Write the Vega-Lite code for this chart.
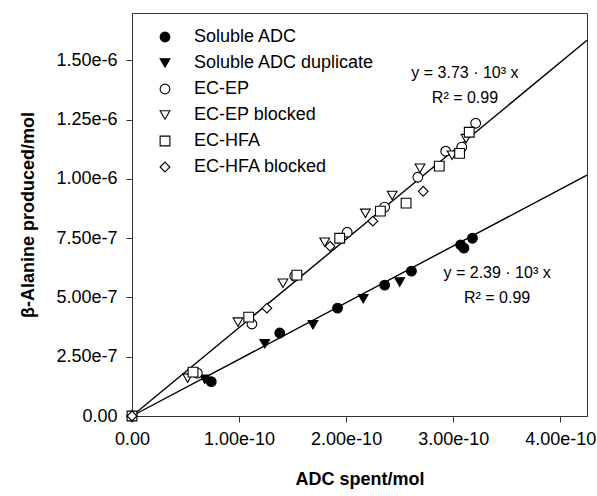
{
  "$schema": "https://vega.github.io/schema/vega-lite/v6.json",
  "width": 455,
  "height": 403,
  "autosize": "none",
  "padding": {"left": 132, "top": 13, "right": 10, "bottom": 80},
  "background": "white",
  "config": {
    "font": "Liberation Sans",
    "view": {"stroke": "#333", "strokeWidth": 1},
    "axis": {"grid": false, "domainColor": "#333", "tickColor": "#333", "tickSize": 6, "labelFontSize": 18, "labelColor": "#000", "titleFontSize": 18, "titleFontWeight": "bold", "titleColor": "#000"},
    "legend": {"orient": "none", "legendX": 24, "legendY": 15, "labelFontSize": 18, "labelColor": "#000", "labelLimit": 400, "labelOffset": 20, "rowPadding": 8, "symbolSize": 95, "symbolStrokeWidth": 1.1, "padding": 0}
  },
  "datasets": {
    "pts": [
      {"series": "EC-EP", "x": 0, "y": 0},
      {"series": "EC-HFA", "x": 0, "y": 0},
      {"series": "EC-HFA blocked", "x": 0, "y": 0},
      {"series": "Soluble ADC", "x": 7.4e-11, "y": 1.45e-7},
      {"series": "Soluble ADC", "x": 1.38e-10, "y": 3.50e-7},
      {"series": "Soluble ADC", "x": 1.92e-10, "y": 4.55e-7},
      {"series": "Soluble ADC", "x": 2.36e-10, "y": 5.52e-7},
      {"series": "Soluble ADC", "x": 2.61e-10, "y": 6.11e-7},
      {"series": "Soluble ADC", "x": 3.07e-10, "y": 7.22e-7},
      {"series": "Soluble ADC", "x": 3.10e-10, "y": 7.08e-7},
      {"series": "Soluble ADC", "x": 3.18e-10, "y": 7.50e-7},
      {"series": "Soluble ADC duplicate", "x": 6.8e-11, "y": 1.55e-7},
      {"series": "Soluble ADC duplicate", "x": 1.24e-10, "y": 3.05e-7},
      {"series": "Soluble ADC duplicate", "x": 1.69e-10, "y": 3.85e-7},
      {"series": "Soluble ADC duplicate", "x": 2.16e-10, "y": 4.95e-7},
      {"series": "Soluble ADC duplicate", "x": 2.50e-10, "y": 5.65e-7},
      {"series": "EC-EP", "x": 6.1e-11, "y": 1.81e-7},
      {"series": "EC-EP", "x": 1.12e-10, "y": 3.88e-7},
      {"series": "EC-EP", "x": 1.52e-10, "y": 5.90e-7},
      {"series": "EC-EP", "x": 2.01e-10, "y": 7.75e-7},
      {"series": "EC-EP", "x": 2.36e-10, "y": 8.81e-7},
      {"series": "EC-EP", "x": 2.67e-10, "y": 1.007e-6},
      {"series": "EC-EP", "x": 2.93e-10, "y": 1.117e-6},
      {"series": "EC-EP", "x": 3.08e-10, "y": 1.134e-6},
      {"series": "EC-EP", "x": 3.21e-10, "y": 1.235e-6},
      {"series": "EC-EP blocked", "x": 5.2e-11, "y": 1.60e-7},
      {"series": "EC-EP blocked", "x": 9.9e-11, "y": 3.96e-7},
      {"series": "EC-EP blocked", "x": 1.41e-10, "y": 5.60e-7},
      {"series": "EC-EP blocked", "x": 1.80e-10, "y": 7.33e-7},
      {"series": "EC-EP blocked", "x": 2.18e-10, "y": 8.55e-7},
      {"series": "EC-EP blocked", "x": 2.43e-10, "y": 9.30e-7},
      {"series": "EC-EP blocked", "x": 2.69e-10, "y": 1.045e-6},
      {"series": "EC-EP blocked", "x": 2.99e-10, "y": 1.100e-6},
      {"series": "EC-EP blocked", "x": 3.12e-10, "y": 1.170e-6},
      {"series": "EC-HFA", "x": 5.7e-11, "y": 1.85e-7},
      {"series": "EC-HFA", "x": 1.09e-10, "y": 4.17e-7},
      {"series": "EC-HFA", "x": 1.54e-10, "y": 5.94e-7},
      {"series": "EC-HFA", "x": 1.94e-10, "y": 7.50e-7},
      {"series": "EC-HFA", "x": 2.32e-10, "y": 8.64e-7},
      {"series": "EC-HFA", "x": 2.56e-10, "y": 8.98e-7},
      {"series": "EC-HFA", "x": 2.87e-10, "y": 1.054e-6},
      {"series": "EC-HFA", "x": 3.06e-10, "y": 1.108e-6},
      {"series": "EC-HFA", "x": 3.15e-10, "y": 1.197e-6},
      {"series": "EC-HFA blocked", "x": 1.26e-10, "y": 4.55e-7},
      {"series": "EC-HFA blocked", "x": 1.85e-10, "y": 7.16e-7},
      {"series": "EC-HFA blocked", "x": 2.25e-10, "y": 8.22e-7},
      {"series": "EC-HFA blocked", "x": 2.72e-10, "y": 9.48e-7}
    ],
    "fits": [
      {"line": "a", "x": 0, "y": 0},
      {"line": "a", "x": 4.25e-10, "y": 1.585e-6},
      {"line": "b", "x": 0, "y": 0},
      {"line": "b", "x": 4.25e-10, "y": 1.016e-6}
    ],
    "notes": [
      {"x": 3.11e-10, "y": 1.445e-6, "label": "y = 3.73 · 10³ x"},
      {"x": 3.11e-10, "y": 1.340e-6, "label": "R² = 0.99"},
      {"x": 3.41e-10, "y": 6.03e-7, "label": "y = 2.39 · 10³ x"},
      {"x": 3.41e-10, "y": 4.97e-7, "label": "R² = 0.99"}
    ]
  },
  "encoding": {
    "x": {
      "field": "x", "type": "quantitative",
      "scale": {"domain": [0, 4.25e-10], "nice": false, "zero": true},
      "axis": {"title": "ADC spent/mol", "values": [0, 1e-10, 2e-10, 3e-10, 4e-10], "labelExpr": "datum.value == 0 ? '0.00' : format(datum.value, '.2e')", "labelPadding": 8, "titlePadding": 22, "labelFlush": false}
    },
    "y": {
      "field": "y", "type": "quantitative",
      "scale": {"domain": [0, 1.7e-6], "nice": false, "zero": true},
      "axis": {"title": "β-Alanine produced/mol", "values": [0, 2.5e-7, 5e-7, 7.5e-7, 1e-6, 1.25e-6, 1.5e-6], "labelExpr": "datum.value == 0 ? '0.00' : format(datum.value, '.2e')", "labelPadding": 9, "titlePadding": 18, "labelFlush": false}
    }
  },
  "layer": [
    {
      "data": {"name": "fits"},
      "mark": {"type": "line", "color": "#000", "strokeWidth": 1.4},
      "encoding": {"detail": {"field": "line"}}
    },
    {
      "data": {"name": "pts"},
      "mark": {"type": "point", "filled": true, "strokeWidth": 1.1, "size": 95, "opacity": 1},
      "encoding": {
        "shape": {
          "field": "series", "type": "nominal",
          "scale": {"domain": ["Soluble ADC", "Soluble ADC duplicate", "EC-EP", "EC-EP blocked", "EC-HFA", "EC-HFA blocked"], "range": ["circle", "triangle-down", "circle", "triangle-down", "square", "diamond"]},
          "legend": {"title": null}
        },
        "fill": {
          "field": "series", "type": "nominal",
          "scale": {"domain": ["Soluble ADC", "Soluble ADC duplicate", "EC-EP", "EC-EP blocked", "EC-HFA", "EC-HFA blocked"], "range": ["#000", "#000", "#fff", "#fff", "#fff", "#fff"]},
          "legend": {"title": null}
        },
        "stroke": {
          "field": "series", "type": "nominal",
          "scale": {"domain": ["Soluble ADC", "Soluble ADC duplicate", "EC-EP", "EC-EP blocked", "EC-HFA", "EC-HFA blocked"], "range": ["#000", "#000", "#000", "#000", "#000", "#000"]},
          "legend": {"title": null}
        }
      }
    },
    {
      "data": {"name": "notes"},
      "mark": {"type": "text", "fontSize": 16, "align": "center", "baseline": "middle", "color": "#000"},
      "encoding": {"text": {"field": "label"}}
    }
  ]
}
